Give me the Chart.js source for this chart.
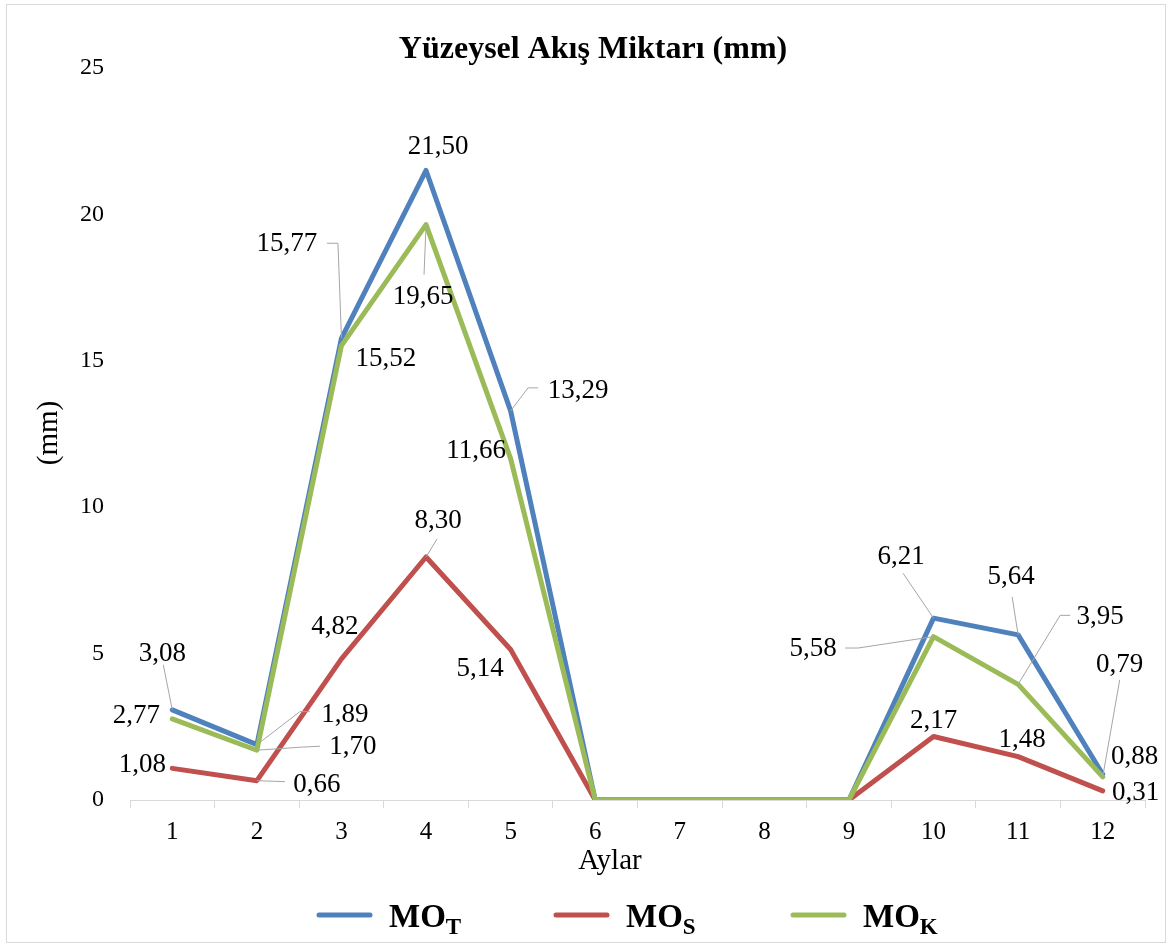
<!DOCTYPE html>
<html>
<head>
<meta charset="utf-8">
<style>
  html, body { margin: 0; padding: 0; background: #ffffff; }
  #wrap { width: 1171px; height: 945px; }
</style>
<script src="https://cdn.jsdelivr.net/npm/chart.js@4.4.1/dist/chart.umd.min.js"></script>
</head>
<body>
<div id="wrap"><canvas id="c" width="1171" height="945"></canvas></div>
<script>
// ---- data ----
const categories = ['1','2','3','4','5','6','7','8','9','10','11','12'];
const moT = [3.08, 1.89, 15.77, 21.50, 13.29, 0, 0, 0, 0, 6.21, 5.64, 0.88];
const moS = [1.08, 0.66, 4.82, 8.30, 5.14, 0, 0, 0, 0, 2.17, 1.48, 0.31];
const moK = [2.77, 1.70, 15.52, 19.65, 11.66, 0, 0, 0, 0, 5.58, 3.95, 0.79];
const yTicks = [0, 5, 10, 15, 20, 25];
const seriesBase = 'MO';
const seriesSub = ['T', 'S', 'K'];
const chartTitle = 'Yüzeysel Akış Miktarı (mm)';
const yTitle = '(mm)';
const xTitle = 'Aylar';

// ---- styles ----
const colors = ['#4F81BD', '#C0504D', '#9BBB59'];
const SERIF = '"Liberation Serif", "Times New Roman", serif';

// label offsets (label centre relative to point) and leader-line waypoints (relative to point)
const labelStyle = [
  { // MO_T
    0: { d: [-10, -56], lead: [[-9, -45]] },
    1: { d: [88, -30], lead: [[53, -33], [43, -33]] },
    2: { d: [-54.5, -94], lead: [[-14.5, -95], [-3.5, -95]] },
    3: { d: [12, -23.5] },
    4: { d: [67.4, -20], lead: [[27.4, -23], [17.4, -23]] },
    9: { d: [-32.5, -61], lead: [[-30.5, -45]] },
    10: { d: [-7, -58], lead: [[-6, -38]] },
    11: { d: [32, -17] }
  },
  { // MO_S
    0: { d: [-30, -3] },
    1: { d: [60, 4], lead: [[28, 1]] },
    2: { d: [-6.5, -32] },
    3: { d: [12, -36], lead: [[11, -18]] },
    4: { d: [-30.6, 19.5] },
    9: { d: [0, -15.5] },
    10: { d: [4, -17] },
    11: { d: [33, 2] }
  },
  { // MO_K
    0: { d: [-36, -3] },
    1: { d: [96, -3], lead: [[63, -4], [43, -3]] },
    2: { d: [44.5, 13.4] },
    3: { d: [-3, 72], lead: [[-2, 50]] },
    4: { d: [-34.6, -7.6] },
    9: { d: [-120.5, 12.4], lead: [[-88.5, 11.4], [-75.5, 11.4]] },
    10: { d: [82, -67], lead: [[52, -69], [42, -69]] },
    11: { d: [17, -112], lead: [[17, -97]] }
  }
];

function fmt(v) { return v.toFixed(2).replace('.', ','); }

const decorPlugin = {
  id: 'decor',
  beforeDraw(chart) {
    const ctx = chart.ctx;
    ctx.save();
    ctx.fillStyle = '#ffffff';
    ctx.fillRect(0, 0, chart.width, chart.height);
    ctx.strokeStyle = '#D9D9D9';
    ctx.lineWidth = 1;
    ctx.strokeRect(6.5, 4.5, 1159, 938);
    ctx.restore();
  },
  afterDraw(chart) {
    const ctx = chart.ctx;
    ctx.save();
    // title
    ctx.fillStyle = '#000';
    ctx.font = 'bold 32px ' + SERIF;
    ctx.textAlign = 'center';
    ctx.textBaseline = 'alphabetic';
    ctx.fillText(chartTitle, 593, 58);
    // y axis title
    ctx.font = '29px ' + SERIF;
    ctx.save();
    ctx.translate(49, 433);
    ctx.rotate(-Math.PI / 2);
    ctx.textBaseline = 'middle';
    ctx.fillText(yTitle, 0, 0);
    ctx.restore();
    // x axis title
    ctx.textBaseline = 'middle';
    ctx.fillText(xTitle, 610, 861);

    // data labels
    chart.data.datasets.forEach((ds, si) => {
      const meta = chart.getDatasetMeta(si);
      ds.data.forEach((v, i) => {
        if (v === 0) return;
        const st = labelStyle[si][i];
        if (!st) return;
        const p = meta.data[i];
        const px = p.x, py = p.y;
        if (st.lead) {
          ctx.beginPath();
          ctx.strokeStyle = '#A6A6A6';
          ctx.lineWidth = 1;
          ctx.moveTo(px + st.lead[0][0], py + st.lead[0][1]);
          for (let k = 1; k < st.lead.length; k++) ctx.lineTo(px + st.lead[k][0], py + st.lead[k][1]);
          ctx.lineTo(px, py);
          ctx.stroke();
        }
        ctx.fillStyle = '#000';
        ctx.font = '27px ' + SERIF;
        ctx.textAlign = 'center';
        ctx.textBaseline = 'middle';
        ctx.fillText(fmt(v), px + st.d[0], py + st.d[1]);
      });
    });

    // legend
    const legY = 915;
    chart.data.datasets.forEach((ds, si) => {
      const L = 317 + 237 * si;
      ctx.beginPath();
      ctx.strokeStyle = colors[si];
      ctx.lineWidth = 5;
      ctx.lineCap = 'round';
      ctx.moveTo(L + 2, legY);
      ctx.lineTo(L + 53, legY);
      ctx.stroke();
      ctx.fillStyle = '#000';
      ctx.textAlign = 'left';
      ctx.textBaseline = 'alphabetic';
      ctx.font = 'bold 33px ' + SERIF;
      const tx = L + 72;
      ctx.fillText(seriesBase, tx, legY + 12);
      const w = ctx.measureText(seriesBase).width;
      ctx.font = 'bold 23px ' + SERIF;
      ctx.fillText(seriesSub[si], tx + w, legY + 19);
    });
    ctx.restore();
  }
};

Chart.defaults.color = '#000';
Chart.defaults.font.family = SERIF;

const seriesValues = [moT, moS, moK];
new Chart(document.getElementById('c'), {
  type: 'line',
  data: {
    labels: categories,
    datasets: seriesValues.map((vals, si) => ({
      label: seriesBase + '_' + seriesSub[si],
      data: vals,
      borderColor: colors[si],
      backgroundColor: colors[si],
      borderWidth: 5,
      pointRadius: 0,
      tension: 0,
      borderJoinStyle: 'round',
      borderCapStyle: 'round',
      fill: false,
      order: [3, 2, 1][si]
    }))
  },
  options: {
    responsive: false,
    animation: false,
    devicePixelRatio: 1,
    layout: { padding: { left: 0, top: 68, right: 26, bottom: 85 } },
    plugins: {
      legend: { display: false },
      title: { display: false },
      tooltip: { enabled: false }
    },
    scales: {
      x: {
        type: 'category',
        offset: true,
        grid: { display: true, drawOnChartArea: false, drawTicks: true, tickLength: 8, color: '#D9D9D9', offset: true },
        border: { display: true, color: '#D9D9D9', width: 1 },
        ticks: { font: { size: 25, family: SERIF }, color: '#000', padding: 9, maxRotation: 0, autoSkip: false },
        afterFit(s) { s.height = 60; }
      },
      y: {
        min: 0, max: 25,
        afterBuildTicks(s) { s.ticks = yTicks.map(v => ({ value: v })); },
        grid: { display: false, drawTicks: false },
        border: { display: false },
        ticks: { font: { size: 24, family: SERIF }, color: '#000', padding: 26 },
        afterFit(s) { s.width = 130; }
      }
    }
  },
  plugins: [decorPlugin]
});
</script>
</body>
</html>
